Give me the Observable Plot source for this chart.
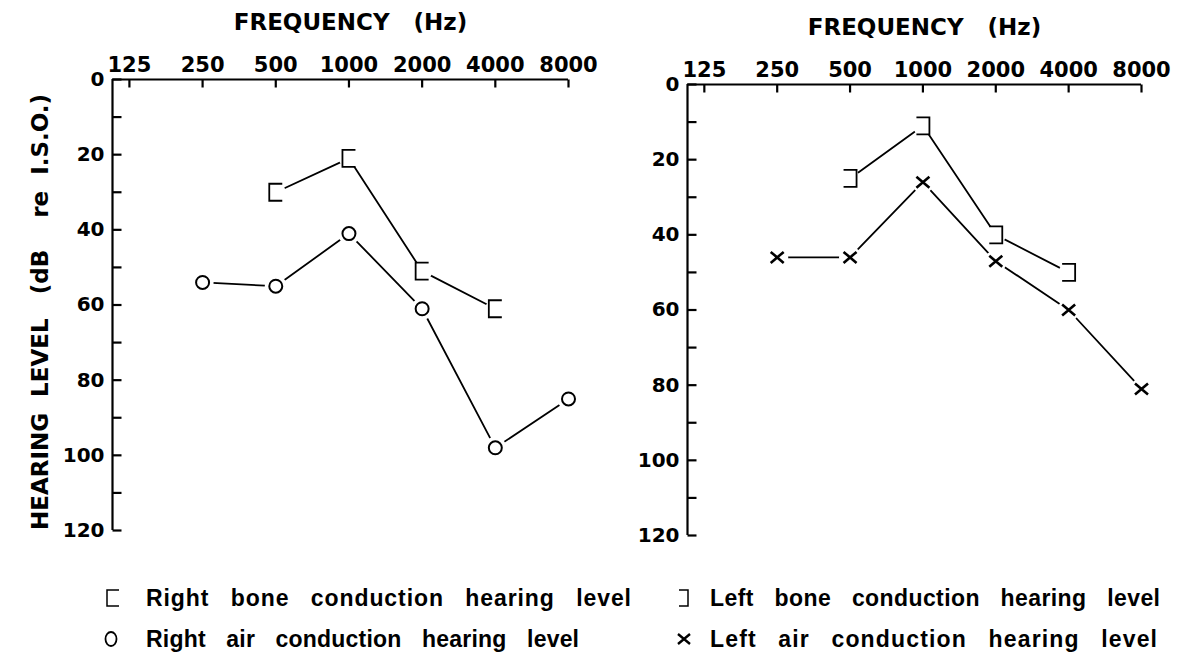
<!DOCTYPE html>
<html>
<head>
<meta charset="utf-8">
<script src="https://cdn.jsdelivr.net/npm/d3@7"></script>
<script src="https://cdn.jsdelivr.net/npm/@observablehq/plot@0.6"></script>
<style>
html, body { margin: 0; padding: 0; background: #fff; }
#wrap { position: relative; width: 1186px; height: 668px; overflow: hidden; background: #fff; }
#left, #right { position: absolute; top: 0; }
#left { left: 0; }
#right { left: 593px; }
#legend { position: absolute; left: 0; top: 570px; }
</style>
</head>
<body>
<div id="wrap">
  <div id="left"></div>
  <div id="right"></div>
  <svg id="legend" width="1186" height="98"></svg>
</div>
<script>
// ---------- data ----------
const frequencies = [125, 250, 500, 1000, 2000, 4000, 8000];
const levelLabels = [0, 20, 40, 60, 80, 100, 120];
const levelMinorTicks = [0, 10, 20, 30, 40, 50, 60, 70, 80, 90, 100, 110, 120];

// right ear (left panel)
const rightAirFreq = [250, 500, 1000, 2000, 4000, 8000];
const rightAirDb   = [54, 55, 41, 61, 98, 85];
const rightBoneFreq = [500, 1000, 2000, 4000];
const rightBoneDb   = [30, 21, 51, 61];

// left ear (right panel)
const leftAirFreq = [250, 500, 1000, 2000, 4000, 8000];
const leftAirDb   = [46, 46, 26, 47, 60, 81];
const leftBoneFreq = [500, 1000, 2000, 4000];
const leftBoneDb   = [25, 11, 40, 50];

const xTitle = "FREQUENCY\u00a0\u00a0\u00a0(Hz)";
const yTitle = "HEARING\u00a0\u00a0LEVEL\u00a0\u00a0\u00a0(dB\u00a0\u00a0\u00a0\u00a0re\u00a0\u00a0I.S.O.)";
const legendLabels = [
  "Right bone conduction hearing level",
  "Right air conduction hearing level",
  "Left bone conduction hearing level",
  "Left air conduction hearing level"
];

const xDomain = [106.5, 8000];
const yDomain = [0, 120];

// ---------- symbols ----------
const bracketOpenRight = { draw(ctx) { ctx.moveTo(6.5, -8.5); ctx.lineTo(-6.5, -8.5); ctx.lineTo(-6.5, 8.5); ctx.lineTo(6.5, 8.5); } };
const bracketOpenLeft  = { draw(ctx) { ctx.moveTo(-6.5, -8.5); ctx.lineTo(6.5, -8.5); ctx.lineTo(6.5, 8.5); ctx.lineTo(-6.5, 8.5); } };
const crossMark = { draw(ctx) { ctx.moveTo(-6.5, -5.5); ctx.lineTo(6.5, 5.5); ctx.moveTo(-6.5, 5.5); ctx.lineTo(6.5, -5.5); } };
const tickRight = { draw(ctx) { ctx.moveTo(0, 0); ctx.lineTo(9, 0); } };
const tickDown  = { draw(ctx) { ctx.moveTo(0, 0); ctx.lineTo(0, 8); } };

const zip = (fs, ds) => fs.map((f, i) => ({f, db: ds[i]}));

function panel({air, bone, airSymbol, boneSymbol, marginLeft, marginRight, marginTop, showYTitle}) {
  const font = "DejaVu Sans";
  const marks = [
    Plot.ruleY([0], {stroke: "black", strokeWidth: 2.2}),
    Plot.ruleX([xDomain[0]], {stroke: "black", strokeWidth: 2.2}),
    Plot.dot(levelMinorTicks, {x: xDomain[0], y: d => d, symbol: tickRight, stroke: "black", fill: "none", strokeWidth: 2.2}),
    Plot.dot(frequencies, {x: d => d, y: 0, symbol: tickDown, stroke: "black", fill: "none", strokeWidth: 2.2}),
    Plot.axisY({ticks: levelLabels, tickSize: 0, tickPadding: 8, label: null, fontSize: 20, fontWeight: "bold", fontFamily: font, tickFormat: d => String(d)}),
    Plot.axisX({anchor: "top", ticks: frequencies, tickSize: 0, tickPadding: 8, label: null, fontSize: 21, fontWeight: "bold", fontFamily: font, tickFormat: d => String(d)}),
    Plot.text([xTitle], {frameAnchor: "top", dx: 10, dy: -57, fontSize: 23, fontWeight: "bold", fontFamily: font, lineAnchor: "middle", textAnchor: "middle"}),
    // connecting lines
    Plot.line(bone, {x: "f", y: "db", stroke: "black", strokeWidth: 1.8}),
    Plot.line(air, {x: "f", y: "db", stroke: "black", strokeWidth: 1.8}),
    // gaps around symbols
    Plot.dot(bone, {x: "f", y: "db", r: 10, fill: "white"}),
    Plot.dot(air, {x: "f", y: "db", r: 11, fill: "white"}),
    // symbols
    Plot.dot(bone, {x: "f", y: "db", symbol: boneSymbol, stroke: "black", fill: "none", strokeWidth: 1.8}),
    airSymbol === "circle"
      ? Plot.dot(air, {x: "f", y: "db", r: 6.5, stroke: "black", fill: "white", strokeWidth: 2})
      : Plot.dot(air, {x: "f", y: "db", symbol: airSymbol, stroke: "black", fill: "none", strokeWidth: 2.6})
  ];
  if (showYTitle) {
    marks.push(Plot.text([yTitle], {frameAnchor: "left", dx: -72, dy: 7, rotate: -90, textAnchor: "middle", lineAnchor: "middle", fontSize: 23, fontWeight: "bold", fontFamily: font}));
  }
  return Plot.plot({
    width: 593,
    height: marginTop + 451 + 20,
    marginLeft, marginRight, marginTop, marginBottom: 20,
    x: {type: "log", base: 2, domain: xDomain},
    y: {domain: yDomain, reverse: true},
    style: {background: "transparent", overflow: "visible", color: "black"},
    marks
  });
}

document.getElementById("left").append(panel({
  air: zip(rightAirFreq, rightAirDb),
  bone: zip(rightBoneFreq, rightBoneDb),
  airSymbol: "circle",
  boneSymbol: bracketOpenRight,
  marginLeft: 112, marginRight: 25, marginTop: 79,
  showYTitle: true
}));

document.getElementById("right").append(panel({
  air: zip(leftAirFreq, leftAirDb),
  bone: zip(leftBoneFreq, leftBoneDb),
  airSymbol: crossMark,
  boneSymbol: bracketOpenLeft,
  marginLeft: 94, marginRight: 45, marginTop: 84,
  showYTitle: false
}));

// ---------- legend ----------
const lg = d3.select("#legend");
const legendLayout = [
  {sx: 113, tx: 146, y: 28, len: 485, sym: "bracketR"},
  {sx: 111, tx: 146, y: 69, len: 433, sym: "circle"},
  {sx: 684, tx: 710, y: 28, len: 450, sym: "bracketL"},
  {sx: 684, tx: 710, y: 69, len: 447, sym: "cross"}
];
legendLayout.forEach((p, i) => {
  const g = lg.append("g").attr("transform", `translate(${p.sx},${p.y})`)
    .attr("fill", "none").attr("stroke", "black");
  if (p.sym === "bracketR") g.append("path").attr("d", "M6,-8H-6V8H6").attr("stroke-width", 1.5);
  if (p.sym === "bracketL") g.append("path").attr("d", "M-5,-8H4V8H-5").attr("stroke-width", 1.5);
  if (p.sym === "circle") g.append("ellipse").attr("rx", 5.5).attr("ry", 7).attr("stroke-width", 1.8);
  if (p.sym === "cross") g.append("path").attr("d", "M-6,-5L6,5M-6,5L6,-5").attr("stroke-width", 2.4);
  lg.append("text")
    .attr("x", p.tx).attr("y", p.y)
    .attr("dominant-baseline", "central")
    .attr("font-family", "Liberation Sans, Arial, sans-serif")
    .attr("font-weight", "bold")
    .attr("font-size", 23)
    .attr("word-spacing", 14)
    .attr("textLength", p.len)
    .attr("lengthAdjust", "spacing")
    .text(legendLabels[i]);
});
</script>
</body>
</html>
